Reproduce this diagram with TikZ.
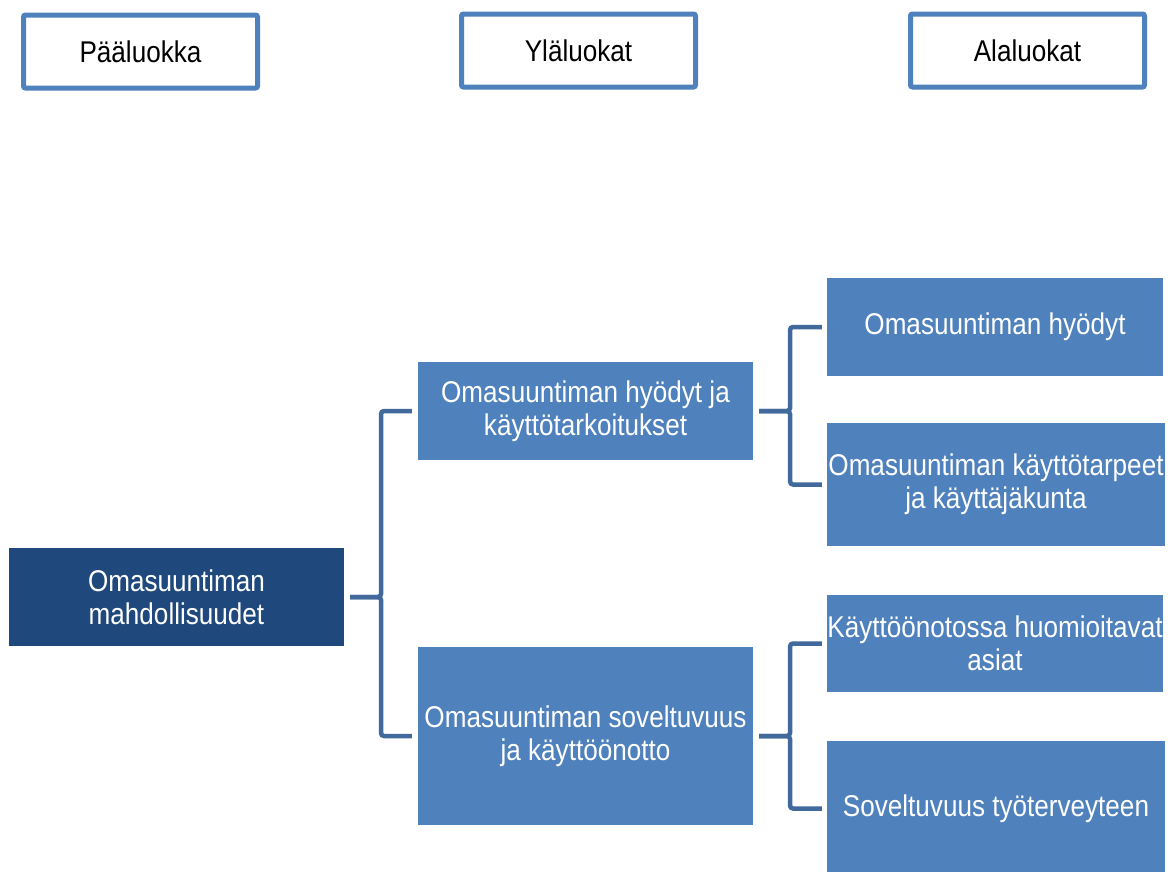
\documentclass[tikz,border=0pt]{standalone}
\usepackage{fontspec}
\setmainfont[FakeStretch=0.87]{Liberation Sans}
\usetikzlibrary{calc}
\definecolor{boxblue}{HTML}{4F81BD}
\definecolor{darkblue}{HTML}{1F497D}
\definecolor{connblue}{HTML}{41699C}
\begin{document}
\begin{tikzpicture}[x=1pt,y=-1pt,
  hdr/.style={draw=boxblue, line width=5pt, fill=white, rounded corners=2pt,
    minimum width=234pt, minimum height=73pt, inner sep=0pt, text=black,
    font=\fontsize{30}{33}\selectfont},
  box/.style={fill=boxblue, text=white, inner sep=0pt, align=center,
    font=\fontsize{30}{33}\selectfont},
  conn/.style={draw=connblue, line width=4.5pt, rounded corners=3pt}]
\fill[white] (0,0) rectangle (1173,871);
\useasboundingbox (0,0) rectangle (1173,871);
% headers
\node[hdr] (h1) at (140.5,51.5) {Pääluokka};
\node[hdr] (h2) at (578.5,50.5) {Yläluokat};
\node[hdr] (h3) at (1027.5,50.5) {Alaluokat};
% boxes
\node[box, fill=darkblue, minimum width=335pt, minimum height=98pt] (main) at (176.5,597) {Omasuuntiman\\mahdollisuudet};
\node[box, minimum width=335pt, minimum height=98pt] (mid1) at (585.5,411) {Omasuuntiman hyödyt ja\\käyttötarkoitukset};
\node[box, minimum width=335pt, minimum height=178pt] (mid2) at (585.5,736) {Omasuuntiman soveltuvuus\\ja käyttöönotto};
\node[box, minimum width=336pt, minimum height=98pt] (r1) at (995,327) {Omasuuntiman hyödyt};
\node[box, minimum width=338pt, minimum height=123pt] (r2) at (996,484.5) {Omasuuntiman käyttötarpeet\\ja käyttäjäkunta};
\node[box, minimum width=336pt, minimum height=97pt] (r3) at (995,643.5) {Käyttöönotossa huomioitavat\\asiat};
\node[box, minimum width=338pt, minimum height=135pt] (r4) at (996,808.5) {Soveltuvuus työterveyteen};
% connector bend points
\coordinate (b1) at ($(main.east)!.5!(mid1.west)$);
\coordinate (b2) at ($(mid1.east)!.5!(r1.west)$);
\coordinate (b3) at ($(mid2.east)!.5!(r3.west)$);
% connectors
\draw[conn] ([xshift=6pt]main.east) -- (main.east -| b1) |- ([xshift=-6pt]mid1.west);
\draw[conn] ([xshift=6pt]main.east) -- (main.east -| b1) |- ([xshift=-6pt]mid2.west);
\draw[conn] ([xshift=6pt]mid1.east) -- (mid1.east -| b2) |- ([xshift=-5pt]r1.west);
\draw[conn] ([xshift=6pt]mid1.east) -- (mid1.east -| b2) |- ([xshift=-5pt]r2.west);
\draw[conn] ([xshift=6pt]mid2.east) -- (mid2.east -| b3) |- ([xshift=-5pt]r3.west);
\draw[conn] ([xshift=6pt]mid2.east) -- (mid2.east -| b3) |- ([xshift=-5pt]r4.west);
\end{tikzpicture}
\end{document}
